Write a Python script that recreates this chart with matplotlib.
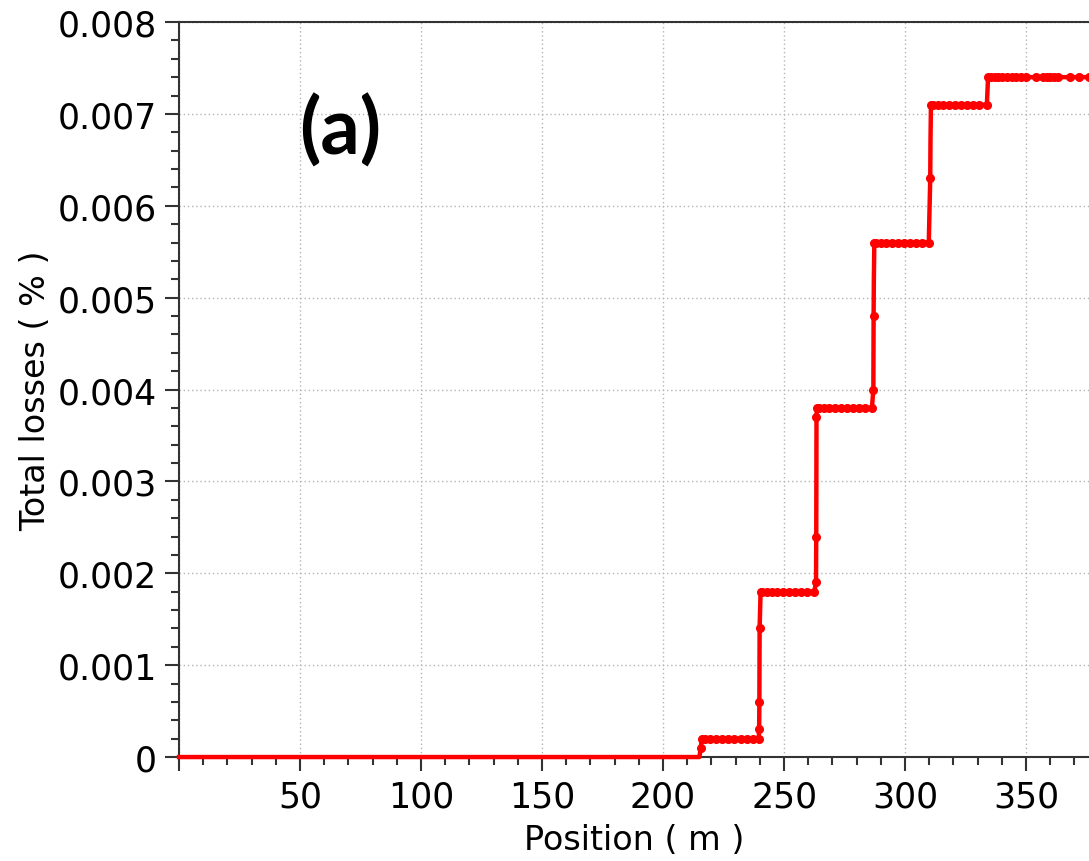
import numpy as np
import matplotlib
matplotlib.use('Agg')
import matplotlib.pyplot as plt
from matplotlib.ticker import MultipleLocator, FuncFormatter

# sampled total losses along the line
pos = [0, 10, 20, 30, 40, 50, 60, 70, 75, 80, 85, 90, 95, 100, 105, 110, 115, 120,
       130, 140, 150, 160, 170, 180, 190, 200, 210, 215,
       215.6, 216.0,
       217.5, 219.5, 222, 224.5, 227, 229.5, 232, 234.5, 237, 239.5,
       239.7, 239.8, 239.9, 240.3,
       241, 243, 245, 247, 249.5, 252, 254.5, 257, 259.5, 262.5,
       263.2, 263.3, 263.4, 263.6,
       264.5, 266.5, 268.5, 271, 273.5, 276, 278.5, 281, 283.5, 286.3,
       286.9, 287.0, 287.1, 287.3,
       288, 290, 292, 294.5, 297, 299.5, 302, 304.5, 307, 309.8,
       310.4, 310.5, 310.7,
       311.5, 313.5, 315.5, 318, 320.5, 323, 325.5, 328, 330.5, 333.8,
       334.3,
       335.5, 337, 338.5, 340, 342, 344, 346, 348, 350, 354, 357, 358.5, 360, 361.5,
       363, 368, 372, 376]
loss = [0] * 28 + \
       [0.0001, 0.0002] + [0.0002] * 10 + \
       [0.0003, 0.0006, 0.0014, 0.0018] + [0.0018] * 10 + \
       [0.0019, 0.0024, 0.0037, 0.0038] + [0.0038] * 10 + \
       [0.0040, 0.0048, 0.0052, 0.0056] + [0.0056] * 10 + \
       [0.0063, 0.0067, 0.0071] + [0.0071] * 10 + \
       [0.0074] + [0.0074] * 18

# points that carry a visible marker (the zero run sits on the spine)
marked = [i for i, v in enumerate(loss) if v not in (0, 0.0052, 0.0067)]

fig = plt.figure(figsize=(10.89, 8.62), dpi=100)
ax = fig.add_axes([0.1644, 0.1206, 0.8356, 0.8527])

ax.plot(pos, loss, color='red', linewidth=3.2, marker='o', markersize=5.5,
        markevery=marked, zorder=3, clip_on=False)

ax.set_xlim(0, 376)
ax.set_ylim(0, 0.008)
ax.xaxis.set_major_locator(MultipleLocator(50))
ax.xaxis.set_minor_locator(MultipleLocator(10))
ax.yaxis.set_major_locator(MultipleLocator(0.001))
ax.yaxis.set_minor_locator(MultipleLocator(0.0002))
ax.xaxis.set_major_formatter(FuncFormatter(lambda v, p: '' if v == 0 else '%d' % v))
ax.yaxis.set_major_formatter(FuncFormatter(lambda v, p: '0' if v == 0 else '%.3f' % v))

ax.grid(True, which='major', color='#b4b4b4', linestyle=(0, (1, 2)), linewidth=1)
ax.set_axisbelow(True)

for s in ['left', 'bottom', 'top']:
    ax.spines[s].set_color('#333333')
    ax.spines[s].set_linewidth(1.5)
ax.spines['right'].set_visible(False)

ax.tick_params(which='major', direction='out', length=10, width=1.5, color='#333333',
               labelsize=25, pad=6)
ax.tick_params(which='minor', direction='out', length=6, width=1.5, color='#333333')

ax.set_xlabel('Position ( m )', fontsize=24, labelpad=7)
ax.set_ylabel('Total losses ( % )', fontsize=24, labelpad=4)

ax.text(66.5, 0.00682, '(a)', fontsize=56, fontweight='bold', family='Lato',
        ha='center', va='center')

fig.savefig('out.png', dpi=100)
